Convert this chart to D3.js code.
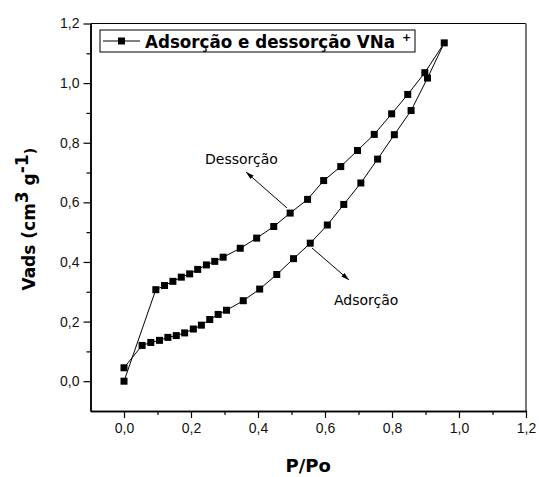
<!DOCTYPE html>
<html>
<head>
<meta charset="utf-8">
<script src="https://cdn.jsdelivr.net/npm/d3@7"></script>
<style>
  body { margin: 0; background: #fff; }
  .tick text { font-family: "Liberation Sans", Arial, sans-serif; font-size: 14px; fill: #111; }
  .domain { stroke: #000; stroke-width: 1.5; }
  .tick line { stroke: #000; stroke-width: 1.2; }
</style>
</head>
<body>
<script>
// isotherm data
var adsX = [0, 0.054, 0.08, 0.106, 0.131, 0.156, 0.181, 0.207, 0.231, 0.256, 0.281, 0.306, 0.356, 0.405, 0.456, 0.506, 0.556, 0.607, 0.656, 0.707, 0.757, 0.807, 0.857, 0.906, 0.956];
var adsY = [0.045, 0.12, 0.13, 0.137, 0.147, 0.153, 0.162, 0.175, 0.188, 0.207, 0.224, 0.238, 0.27, 0.309, 0.358, 0.411, 0.463, 0.524, 0.593, 0.665, 0.745, 0.827, 0.908, 1.017, 1.135];
var desX = [0.898, 0.847, 0.799, 0.747, 0.697, 0.647, 0.596, 0.548, 0.496, 0.447, 0.396, 0.347, 0.296, 0.271, 0.246, 0.22, 0.196, 0.171, 0.146, 0.121, 0.095, 0];
var desY = [1.035, 0.962, 0.897, 0.828, 0.774, 0.72, 0.673, 0.61, 0.564, 0.519, 0.48, 0.446, 0.416, 0.402, 0.39, 0.375, 0.36, 0.349, 0.335, 0.321, 0.307, 0];

var majorTicks = [0, 0.2, 0.4, 0.6, 0.8, 1.0, 1.2];
var minorTicks = [0.1, 0.3, 0.5, 0.7, 0.9, 1.1];

var width = 539,
    height = 477;

var svg = d3.select("body").append("svg")
    .attr("width", width)
    .attr("height", height);

var x = d3.scaleLinear().domain([-0.1, 1.2]).range([90.5, 526]);
var y = d3.scaleLinear().domain([-0.1, 1.2]).range([411, 23.5]);

var fmt = function(d){ return d3.format(".1f")(d).replace(".", ","); };

//frame top and right
svg.append("line")
    .attr("x1", x(-0.1)).attr("x2", x(1.2))
    .attr("y1", y(1.2)).attr("y2", y(1.2))
    .attr("stroke", "#000").attr("stroke-width", 1.2);
svg.append("line")
    .attr("x1", x(1.2)).attr("x2", x(1.2))
    .attr("y1", y(1.2)).attr("y2", y(-0.1))
    .attr("stroke", "#777").attr("stroke-width", 2);

//axes
svg.append("g")
    .attr("transform", "translate(0," + y(-0.1) + ")")
    .call(d3.axisBottom(x).tickValues(majorTicks).tickSize(7).tickSizeOuter(0).tickPadding(5).tickFormat(fmt));
svg.append("g")
    .attr("transform", "translate(0," + y(-0.1) + ")")
    .call(d3.axisBottom(x).tickValues(minorTicks).tickSize(4).tickSizeOuter(0).tickFormat(""));

svg.append("g")
    .attr("transform", "translate(" + x(-0.1) + ",0)")
    .call(d3.axisLeft(y).tickValues(majorTicks).tickSize(7).tickSizeOuter(0).tickPadding(4).tickFormat(fmt));
svg.append("g")
    .attr("transform", "translate(" + x(-0.1) + ",0)")
    .call(d3.axisLeft(y).tickValues(minorTicks).tickSize(4).tickSizeOuter(0).tickFormat(""));

//isotherm line + markers
var pts = [];
adsX.forEach(function(d, i){ pts.push([d, adsY[i]]); });
desX.forEach(function(d, i){ pts.push([d, desY[i]]); });

var line = d3.line()
    .x(function(d){ return x(d[0]); })
    .y(function(d){ return y(d[1]); });

svg.append("path")
    .datum(pts)
    .attr("fill", "none")
    .attr("stroke", "#000")
    .attr("stroke-width", 1)
    .attr("d", line);

var ms = 7;
svg.selectAll(".pt")
    .data(pts)
    .enter()
    .append("rect")
    .attr("class", "pt")
    .attr("x", function(d){ return x(d[0]) - ms / 2; })
    .attr("y", function(d){ return y(d[1]) - ms / 2; })
    .attr("width", ms)
    .attr("height", ms)
    .attr("fill", "#000");

//legend
var leg = svg.append("g");
leg.append("rect")
    .attr("x", 100).attr("y", 30).attr("width", 315).attr("height", 22)
    .attr("fill", "#fff").attr("stroke", "#000").attr("stroke-width", 1);
leg.append("line")
    .attr("x1", 103).attr("x2", 140).attr("y1", 41).attr("y2", 41)
    .attr("stroke", "#000").attr("stroke-width", 1);
leg.append("rect")
    .attr("x", 121.5 - ms / 2).attr("y", 41 - ms / 2).attr("width", ms).attr("height", ms)
    .attr("fill", "#000");
leg.append("text")
    .attr("x", 145).attr("y", 48)
    .attr("font-family", "DejaVu Sans, Verdana, sans-serif")
    .attr("font-weight", "bold")
    .attr("font-size", 17)
    .attr("textLength", 250)
    .attr("lengthAdjust", "spacingAndGlyphs")
    .text("Adsorção e dessorção VNa");
leg.append("text")
    .attr("x", 402).attr("y", 41)
    .attr("font-family", "DejaVu Sans, Verdana, sans-serif")
    .attr("font-weight", "bold")
    .attr("font-size", 11)
    .text("+");

//annotations
svg.append("defs").append("marker")
    .attr("id", "arr")
    .attr("viewBox", "0 0 10 10")
    .attr("refX", 10).attr("refY", 5)
    .attr("markerWidth", 8).attr("markerHeight", 8)
    .attr("orient", "auto")
    .append("path")
    .attr("d", "M0,2 L10,5 L0,8 Z")
    .attr("fill", "#000");

svg.append("line")
    .attr("x1", 287).attr("y1", 208)
    .attr("x2", 246).attr("y2", 172)
    .attr("stroke", "#000").attr("stroke-width", 1)
    .attr("marker-end", "url(#arr)");
svg.append("line")
    .attr("x1", 312).attr("y1", 248)
    .attr("x2", 349).attr("y2", 280)
    .attr("stroke", "#000").attr("stroke-width", 1)
    .attr("marker-end", "url(#arr)");

svg.append("text")
    .attr("x", 205).attr("y", 164)
    .attr("font-family", "DejaVu Sans, Verdana, sans-serif")
    .attr("font-size", 14)
    .text("Dessorção");
svg.append("text")
    .attr("x", 334).attr("y", 305)
    .attr("font-family", "DejaVu Sans, Verdana, sans-serif")
    .attr("font-size", 14)
    .text("Adsorção");

//axis titles
svg.append("text")
    .attr("x", (x(-0.1) + x(1.2)) / 2).attr("y", 472)
    .attr("text-anchor", "middle")
    .attr("font-family", "DejaVu Sans, Verdana, sans-serif")
    .attr("font-weight", "bold")
    .attr("font-size", 18)
    .text("P/Po");

var yt = svg.append("text")
    .attr("transform", "translate(35," + ((y(-0.1) + y(1.2)) / 2 + 2) + ") rotate(-90)")
    .attr("text-anchor", "middle")
    .attr("font-family", "DejaVu Sans, Verdana, sans-serif")
    .attr("font-weight", "bold")
    .attr("font-size", 17);
yt.append("tspan").text("Vads (cm");
yt.append("tspan").attr("dy", -7).text("3");
yt.append("tspan").attr("dy", 7).text(" g");
yt.append("tspan").attr("dy", -7).text("-1");
yt.append("tspan").attr("dy", 7).attr("font-size", 14).text(")");
</script>
</body>
</html>
